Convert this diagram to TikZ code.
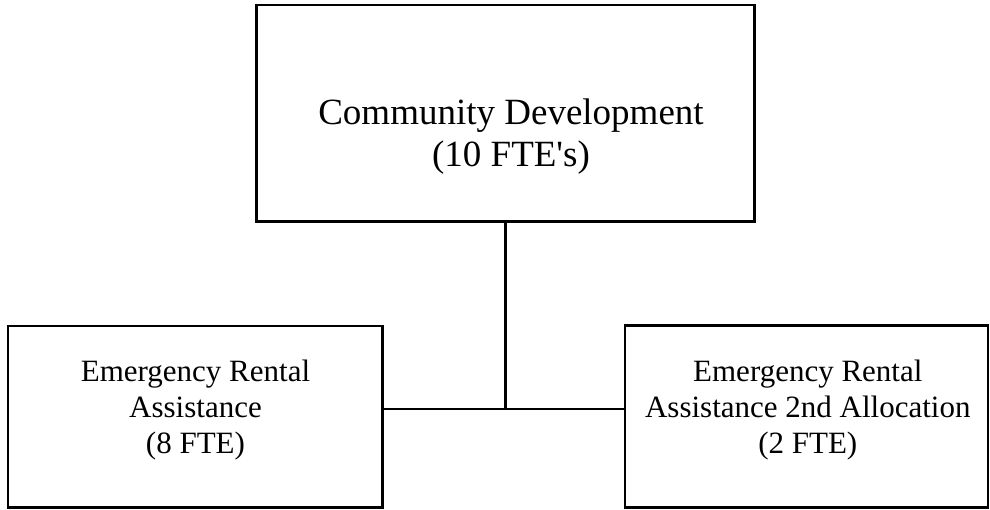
\documentclass[tikz,border=0pt]{standalone}
\usepackage{fontspec}
\setmainfont{Liberation Serif}
\begin{document}
\begin{tikzpicture}[x=1pt,y=-1pt,
  box/.style={draw,line width=2.7pt,inner sep=0pt,rectangle},
  link/.style={line width=2.7pt},
  bigtext/.style={align=center,inner sep=0pt,font=\fontsize{37}{42}\selectfont},
  smalltext/.style={align=center,inner sep=0pt,font=\fontsize{31}{36}\selectfont}]
\useasboundingbox (0,0) rectangle (990,510);

% boxes
\node[box,minimum width=498pt,minimum height=216.5pt] (cd) at (505.5,113.25) {};
\node[box,minimum width=374.5pt,minimum height=181.5pt] (era) at (195.25,416.75) {};
\node[box,minimum width=363pt,minimum height=182pt] (era2) at (806.5,416.5) {};

% labels
\node[bigtext] (cdtext) at (511,136.6) {Community Development\\(10 FTE\textquotesingle s)};
\node[smalltext] (eratext) at (195.5,410.1) {Emergency Rental\\Assistance\\(8 FTE)};
\node[smalltext] (era2text) at (807.8,410.1) {Emergency Rental\\Assistance 2nd Allocation\\(2 FTE)};

% connectors
\coordinate (j) at (505.5,409);
\draw[link] (cd.south) -- (j);
\draw[link] (era.east |- j) -- (era2.west |- j);
\end{tikzpicture}
\end{document}
